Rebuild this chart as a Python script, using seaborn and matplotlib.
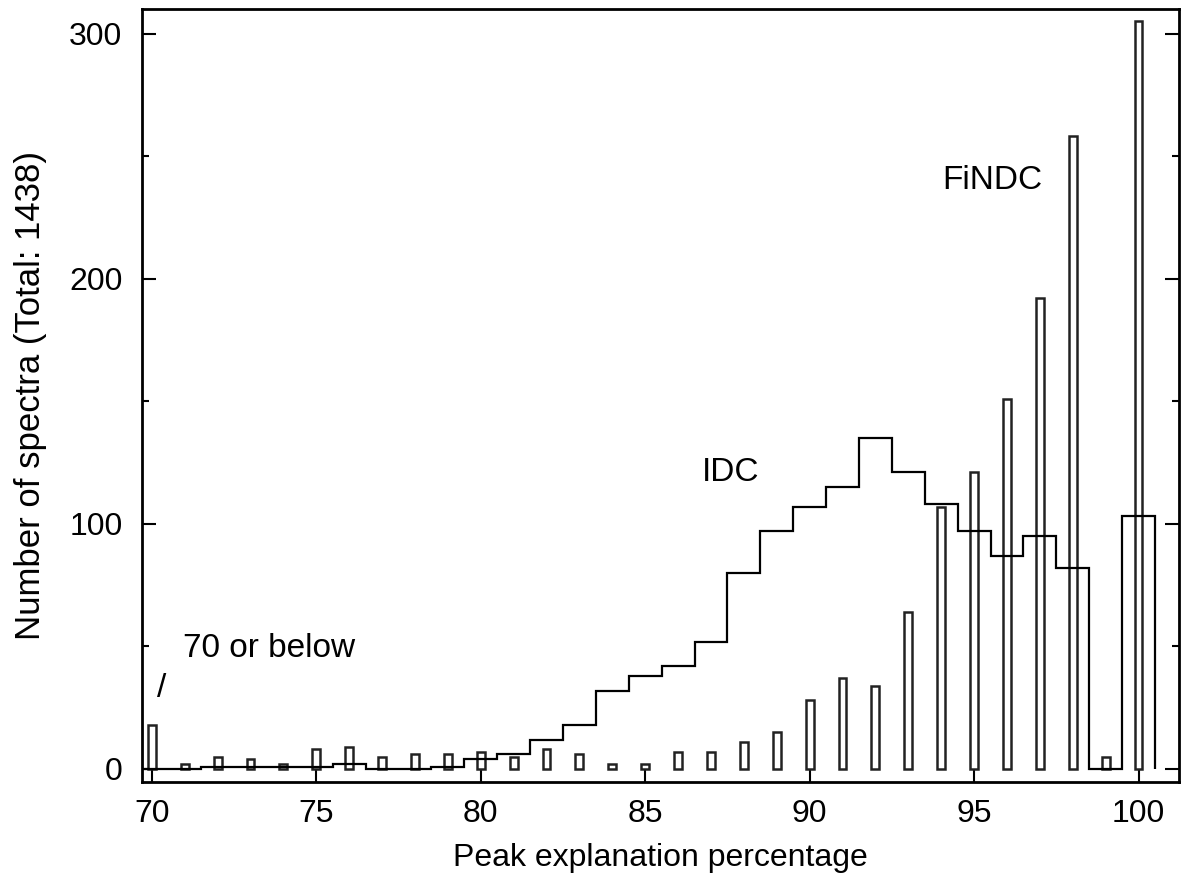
import numpy as np
import pandas as pd
import matplotlib
matplotlib.use("Agg")
import matplotlib.pyplot as plt
import seaborn as sns
from matplotlib.ticker import MultipleLocator

# ---- data ----
pct = list(range(70, 101))
findc = [18, 2, 5, 4, 2, 8, 9, 5, 6, 6, 7, 5, 8, 6, 2, 2, 7, 7, 11, 15,
         28, 37, 34, 64, 107, 121, 151, 192, 258, 5, 305]
idc = [0, 0, 1, 1, 1, 1, 2, 0, 0, 1, 4, 6, 12, 18, 32, 38, 42, 52, 80, 97,
       107, 115, 135, 121, 108, 97, 87, 95, 82, 0, 103]
xticks = [70, 75, 80, 85, 90, 95, 100]
yticks = [0, 100, 200, 300]

sns.set_style("ticks")
plt.rcParams['font.family'] = ['Liberation Sans', 'DejaVu Sans']
plt.rcParams['text.color'] = 'black'
plt.rcParams['axes.labelcolor'] = 'black'
plt.rcParams['xtick.color'] = 'black'
plt.rcParams['ytick.color'] = 'black'

fig = plt.figure(figsize=(11.81, 8.83), dpi=100)
ax = fig.add_axes([0.1202, 0.1144, 0.8781, 0.8754])

df = pd.DataFrame({"pct": pct, "findc": findc, "idc": idc})

sns.histplot(data=df, x="pct", weights="findc", discrete=True, shrink=0.24,
             color="white", edgecolor="#222222", linewidth=1.8, alpha=1,
             ax=ax, zorder=3)

edges = np.arange(69.5, 101.0, 1.0)
ax.stairs(df["idc"].values, edges, baseline=0, fill=False,
          color="black", linewidth=1.6, zorder=4)

ax.set_xlim(69.7, 101.23)
ax.set_ylim(-5.3, 310)
ax.set_xticks(xticks)
ax.set_yticks(yticks)
ax.yaxis.set_minor_locator(MultipleLocator(50))

ax.tick_params(axis='both', which='major', direction='in', length=10, width=1.5,
               labelsize=23, color='black', labelcolor='black')
ax.tick_params(axis='y', which='both', left=True, right=True)
ax.tick_params(axis='y', which='minor', direction='in', length=5, width=1.5)
ax.tick_params(axis='x', which='both', top=False, pad=12)
ax.tick_params(axis='y', which='major', pad=14)
for s in ax.spines.values():
    s.set_linewidth(2)
    s.set_color('black')

ax.set_xlabel("Peak explanation percentage", fontsize=23, labelpad=10)
ax.set_ylabel("Number of spectra (Total: 1438)", fontsize=25, labelpad=16)

ax.text(87.6, 121, "IDC", fontsize=24, ha='center', va='center')
ax.text(95.55, 240, "FiNDC", fontsize=24, ha='center', va='center')
ax.text(70.95, 49, "70 or below", fontsize=24, ha='left', va='center')
ax.text(70.3, 33, "/", fontsize=24, ha='center', va='center')

fig.savefig("out.png", dpi=100)
